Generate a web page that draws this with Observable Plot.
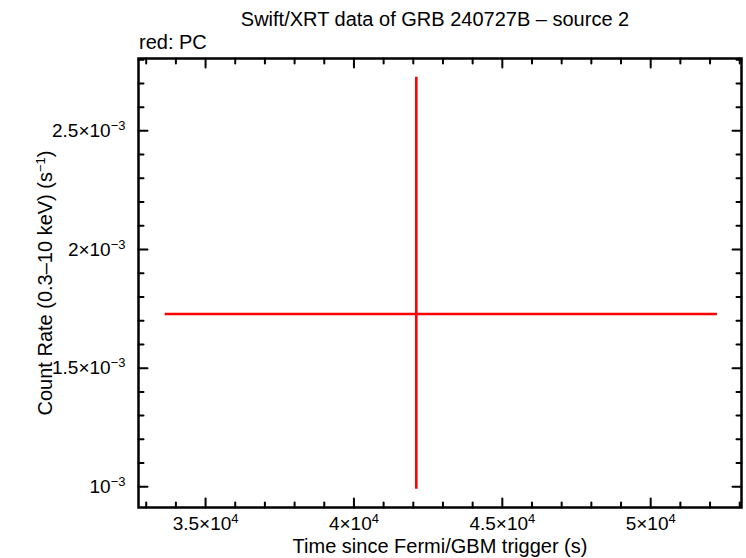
<!DOCTYPE html>
<html>
<head>
<meta charset="utf-8">
<script src="https://cdn.jsdelivr.net/npm/d3@7"></script>
<script src="https://cdn.jsdelivr.net/npm/@observablehq/plot@0.6"></script>
<style>
  body { margin: 0; background: #fff; }
  #wrap { position: relative; width: 746px; height: 558px; font-family: "Liberation Sans", Arial, sans-serif; background: #fff; }
  #title { position: absolute; z-index: 2; left: 135px; width: 600px; top: 7px; text-align: center; font-size: 20px; line-height: 24px; }
  #sub { position: absolute; z-index: 2; left: 139px; top: 30px; font-size: 20px; line-height: 24px; }
  #wrap svg { position: absolute; left: 0; top: 0; z-index: 1; }
  #wrap svg g[aria-label$="tick label"] text { font-size: 19px; }
  #wrap svg g[aria-label$="-axis label"] text { font-size: 20px; }
</style>
</head>
<body>
<div id="wrap">
  <div id="title">Swift/XRT data of GRB 240727B – source 2</div>
  <div id="sub">red: PC</div>
</div>
<script>
// Data
const time = [42102];
const timeLo = [33640];
const timeHi = [52250];
const rate = [1.728e-3];
const rateLo = [0.990e-3];
const rateHi = [2.726e-3];

// Axes
const xDomain = [32740, 53060];
const yDomain = [0.9128e-3, 2.805e-3];
const xMajor = [35000, 40000, 45000, 50000];
const xMajorLabels = ["3.5×10^{4}", "4×10^{4}", "4.5×10^{4}", "5×10^{4}"];
const xMinor = [33000, 34000, 36000, 37000, 38000, 39000, 41000, 42000, 43000, 44000, 46000, 47000, 48000, 49000, 51000, 52000, 53000];
const yMajor = [1e-3, 1.5e-3, 2e-3, 2.5e-3];
const yMajorLabels = ["10^{−3}", "1.5×10^{−3}", "2×10^{−3}", "2.5×10^{−3}"];
const yMinor = [1.1e-3, 1.2e-3, 1.3e-3, 1.4e-3, 1.6e-3, 1.7e-3, 1.8e-3, 1.9e-3, 2.1e-3, 2.2e-3, 2.3e-3, 2.4e-3, 2.6e-3, 2.7e-3, 2.8e-3];
const xLabel = "Time since Fermi/GBM trigger (s)";
const yLabel = "Count Rate (0.3–10 keV) (s^{−1})";

const points = time.map((t, i) => ({t, tLo: timeLo[i], tHi: timeHi[i], r: rate[i], rLo: rateLo[i], rHi: rateHi[i]}));

const tickShape = {draw(context, l) { context.moveTo(0, 0); context.lineTo(0, -l); }};
const tk = (data, opts, len) => Plot.vector(data, {length: len, anchor: "start", shape: tickShape, stroke: "black", strokeWidth: 2, ...opts});

const chart = Plot.plot({
  width: 746,
  height: 558,
  marginLeft: 138,
  marginRight: 5,
  marginTop: 58,
  marginBottom: 51,
  style: {fontFamily: "Liberation Sans, Arial, sans-serif", fontSize: "19px", background: "transparent", color: "black"},
  x: {domain: xDomain},
  y: {domain: yDomain},
  marks: [
    Plot.axisX(xMajor, {anchor: "bottom", tickSize: 0, tickPadding: 9, tickFormat: d => xMajorLabels[xMajor.indexOf(d)], label: xLabel, labelAnchor: "center", labelOffset: 45, labelArrow: "none"}),
    Plot.axisY(yMajor, {anchor: "left", tickSize: 0, tickPadding: 13, tickFormat: d => yMajorLabels[yMajor.indexOf(d)], label: yLabel, labelAnchor: "center", labelOffset: 101, labelArrow: "none"}),
    tk(xMajor, {x: d => d, frameAnchor: "bottom", rotate: 0}, 9),
    tk(xMinor, {x: d => d, frameAnchor: "bottom", rotate: 0}, 5),
    tk(xMajor, {x: d => d, frameAnchor: "top", rotate: 180}, 9),
    tk(xMinor, {x: d => d, frameAnchor: "top", rotate: 180}, 5),
    tk(yMajor, {y: d => d, frameAnchor: "left", rotate: 90}, 9),
    tk(yMinor, {y: d => d, frameAnchor: "left", rotate: 90}, 5),
    tk(yMajor, {y: d => d, frameAnchor: "right", rotate: -90}, 9),
    tk(yMinor, {y: d => d, frameAnchor: "right", rotate: -90}, 5),
    Plot.ruleY(points, {y: "r", x1: "tLo", x2: "tHi", stroke: "#ff0000", strokeWidth: 2.6}),
    Plot.ruleX(points, {x: "t", y1: "rLo", y2: "rHi", stroke: "#ff0000", strokeWidth: 2.6}),
    Plot.frame({stroke: "black", strokeWidth: 2.5})
  ]
});

// Turn "^{...}" markup into real superscript tspans
const NS = "http://www.w3.org/2000/svg";
chart.querySelectorAll("text").forEach(t => {
  const s = t.textContent;
  if (!s.includes("^{")) return;
  const parts = s.split(/\^\{([^}]*)\}/);
  t.textContent = "";
  const shift = 7;
  for (let i = 0; i < parts.length; i++) {
    if (!parts[i]) continue;
    const ts = document.createElementNS(NS, "tspan");
    ts.textContent = parts[i];
    if (i % 2 === 1) {
      ts.setAttribute("dy", -shift);
      ts.setAttribute("font-size", "13px");
    } else if (i > 0) {
      ts.setAttribute("dy", shift);
    }
    t.appendChild(ts);
  }
});
document.getElementById("wrap").appendChild(chart);
</script>
</body>
</html>
